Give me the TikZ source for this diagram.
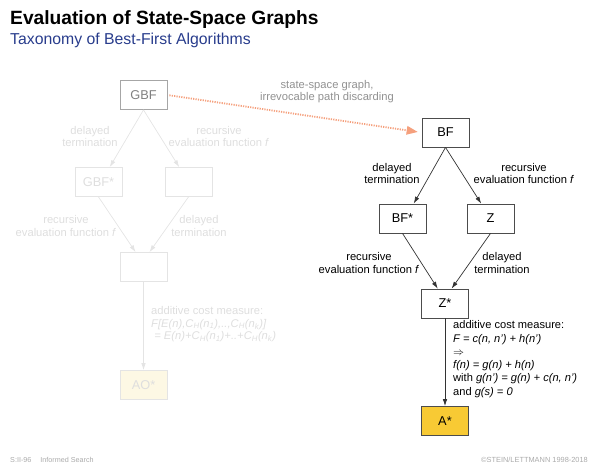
\documentclass[tikz,border=0pt]{standalone}
\usepackage{fontspec}
\setmainfont{Liberation Sans}
\usetikzlibrary{arrows.meta}
\definecolor{titleblue}{RGB}{40,60,140}
\definecolor{orangearrow}{RGB}{245,160,125}
\definecolor{goldfill}{RGB}{248,202,52}
\definecolor{paleyellow}{RGB}{253,248,228}
\definecolor{fadeline}{RGB}{228,228,228}
\definecolor{fadetext}{RGB}{222,222,222}
\definecolor{midgray}{RGB}{145,145,145}
\definecolor{footgray}{RGB}{170,170,170}
\begin{document}
\begin{tikzpicture}[x=1pt,y=-1pt,
  box/.style={draw=black!70, line width=0.8pt, minimum width=47pt, minimum height=29pt, inner sep=0pt, font=\fontsize{12.8}{14}\selectfont},
  fadebox/.style={box, draw=fadeline, text=fadetext},
  lbl/.style={align=center, inner sep=0pt, font=\fontsize{11.2}{12.8}\selectfont},
  fadelbl/.style={lbl, text=fadetext},
  arr/.style={-{Latex[length=7pt,width=4.5pt]}, line width=0.7pt, draw=black!80},
  fadearr/.style={arr, draw=fadeline},
]
\path[use as bounding box] (0,0) rectangle (600,467);

% titles
\node[anchor=base west, inner sep=0pt, font=\fontsize{19.2}{22}\selectfont\bfseries] (title) at (10,24.5) {Evaluation of State-Space Graphs};
\node[anchor=base west, inner sep=0pt, text=titleblue, font=\fontsize{15.8}{18}\selectfont] (subtitle) at (10,44) {Taxonomy of Best-First Algorithms};

% left (faded) diagram
\node[box, draw=black!35, text=black!50] (gbf) at (143.5,95) {GBF};
\node[fadebox] (gbfs) at (98.5,182) {GBF*};
\node[fadebox] (gz) at (188.5,182) {};
\node[fadebox] (gzs) at (143.5,267) {};
\node[fadebox, fill=paleyellow] (ao) at (143.5,385) {AO*};

\draw[fadearr] (gbf.south) -- (gbfs.53);
\draw[fadearr] (gbf.south) -- (gz.122);
\draw[fadearr] (gbfs.south) -- (gzs.118);
\draw[fadearr] (gz.south) -- (gzs.68);
\draw[fadearr] (gzs.south) -- (ao.north);

\node[fadelbl] (gl1) at (90,136.5) {delayed\\termination};
\node[fadelbl] (gl2) at (219,136.5) {recursive\\evaluation function \textit{f}};
\node[fadelbl] (gl3) at (66,226) {recursive\\evaluation function \textit{f}};
\node[fadelbl] (gl4) at (199,226) {delayed\\termination};
\node[fadelbl, anchor=north west, align=left, font=\fontsize{11.2}{12.5}\selectfont] (gadd) at (151,306.5)
  {additive cost measure:\\
   \textit{F[E(n),C\textsubscript{H}(n\textsubscript{1}),..,C\textsubscript{H}(n\textsubscript{k})]}\\
   \ \textit{= E(n)+C\textsubscript{H}(n\textsubscript{1})+..+C\textsubscript{H}(n\textsubscript{k})}};

% right diagram
\node[box] (bf) at (445.5,132.5) {BF};
\node[box] (bfs) at (402.5,218.5) {BF*};
\node[box] (z) at (490.5,218.5) {Z};
\node[box] (zs) at (445,303.5) {Z*};
\node[box, fill=goldfill] (as) at (445,421) {A*};

\draw[arr] (bf.south) -- (bfs.53);
\draw[arr] (bf.south) -- (z.122);
\draw[arr] (bfs.south) -- (zs.116);
\draw[arr] (z.south) -- (zs.66);
\draw[arr] (zs.south) -- (as.north);

\node[lbl] (l1) at (392,173.5) {delayed\\termination};
\node[lbl] (l2) at (524,173.5) {recursive\\evaluation function \textit{f}};
\node[lbl] (l3) at (369,263) {recursive\\evaluation function \textit{f}};
\node[lbl] (l4) at (502,263) {delayed\\termination};
\node[lbl, anchor=north west, align=left, font=\fontsize{11.1}{13.3}\selectfont] (add) at (453,320.5)
  {additive cost measure:\\
   \textit{F = c(n, n') + h(n')}\\
   $\Rightarrow$\\
   \textit{f(n) = g(n) + h(n)}\\
   with \textit{g(n') = g(n) + c(n, n')}\\
   and \textit{g(s) = 0}};

% transition arrow
\draw[orangearrow, line width=1.8pt, dash pattern=on 1.2pt off 1.2pt, shorten <=2pt, shorten >=4pt,
  -{Triangle[length=11pt,width=9pt,fill=orangearrow,line width=0pt]}] (gbf.east) -- (bf.west);
\node[lbl, text=midgray] (tl) at (327,91.5) {state-space graph,\\irrevocable path discarding};

% footer
\node[anchor=base west, inner sep=0pt, text=footgray, font=\fontsize{7.2}{8}\selectfont] (f1) at (10,462) {S:II-96\hspace{9pt}Informed Search};
\node[anchor=base east, inner sep=0pt, text=footgray, font=\fontsize{7.4}{8}\selectfont] (f2) at (588,462) {\textcopyright STEIN/LETTMANN 1998-2018};
\end{tikzpicture}
\end{document}
